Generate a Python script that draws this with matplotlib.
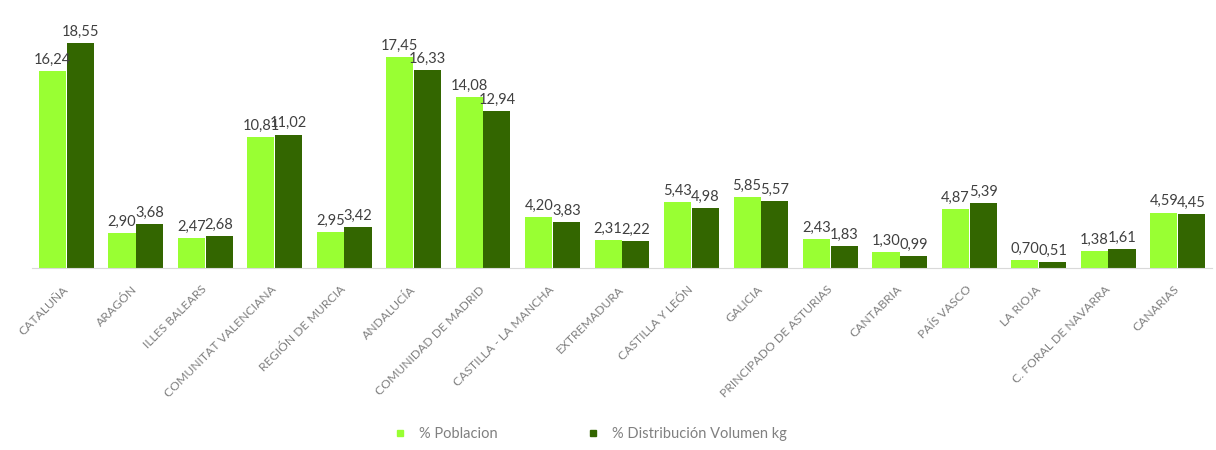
import numpy as np
import matplotlib
matplotlib.use("Agg")
import matplotlib.pyplot as plt
from matplotlib.lines import Line2D

plt.rcParams['font.family'] = ['Lato', 'DejaVu Sans']

regions = ["CATALUÑA", "ARAGÓN", "ILLES BALEARS", "COMUNITAT VALENCIANA",
           "REGIÓN DE MURCIA", "ANDALUCÍA", "COMUNIDAD DE MADRID",
           "CASTILLA - LA MANCHA", "EXTREMADURA", "CASTILLA Y LEÓN", "GALICIA",
           "PRINCIPADO DE ASTURIAS", "CANTABRIA", "PAÍS VASCO", "LA RIOJA",
           "C. FORAL DE NAVARRA", "CANARIAS"]
poblacion = [16.24, 2.90, 2.47, 10.81, 2.95, 17.45, 14.08, 4.20, 2.31, 5.43,
             5.85, 2.43, 1.30, 4.87, 0.70, 1.38, 4.59]
volumen = [18.55, 3.68, 2.68, 11.02, 3.42, 16.33, 12.94, 3.83, 2.22, 4.98,
           5.57, 1.83, 0.99, 5.39, 0.51, 1.61, 4.45]
series_names = ["% Poblacion", "% Distribución Volumen kg"]

light, dark = "#99FF33", "#336600"
label_col = "#404040"
tick_col = "#808080"

fig = plt.figure(figsize=(12.16, 4.5), dpi=100)
ax = fig.add_axes([0.026, 0.404, 0.971, 0.539])

x = np.arange(len(regions))
w = 0.39
b1 = ax.bar(x - w / 2 - 0.004, poblacion, w, color=light)
b2 = ax.bar(x + w / 2 + 0.004, volumen, w, color=dark)

for bars, vals in ((b1, poblacion), (b2, volumen)):
    for r, v in zip(bars, vals):
        ax.annotate(f"{v:.2f}".replace(".", ","),
                    (r.get_x() + r.get_width() / 2, v),
                    xytext=(0, 3), textcoords="offset points",
                    ha="center", va="bottom", fontsize=10.5, color=label_col)

ax.set_xlim(-0.5, len(regions) - 0.5)
ax.set_ylim(0, 20)
ax.set_yticks([])
for s in ("top", "right", "left"):
    ax.spines[s].set_visible(False)
ax.spines["bottom"].set_color("#d9d9d9")
ax.set_xticks(x)
ax.set_xticklabels(regions, rotation=45, ha="right", va="center",
                   rotation_mode="anchor", fontsize=8.7, color=tick_col)
ax.tick_params(axis="x", length=0, pad=14)

handles = [Line2D([], [], marker="s", ls="", color=light, markersize=5),
           Line2D([], [], marker="s", ls="", color=dark, markersize=5)]
fig.legend(handles, series_names, loc="center", bbox_to_anchor=(0.482, 0.035),
           ncol=2, frameon=False, fontsize=10.5, labelcolor=tick_col,
           handletextpad=0.3, columnspacing=5.5)

fig.savefig("out.png", dpi=100)
